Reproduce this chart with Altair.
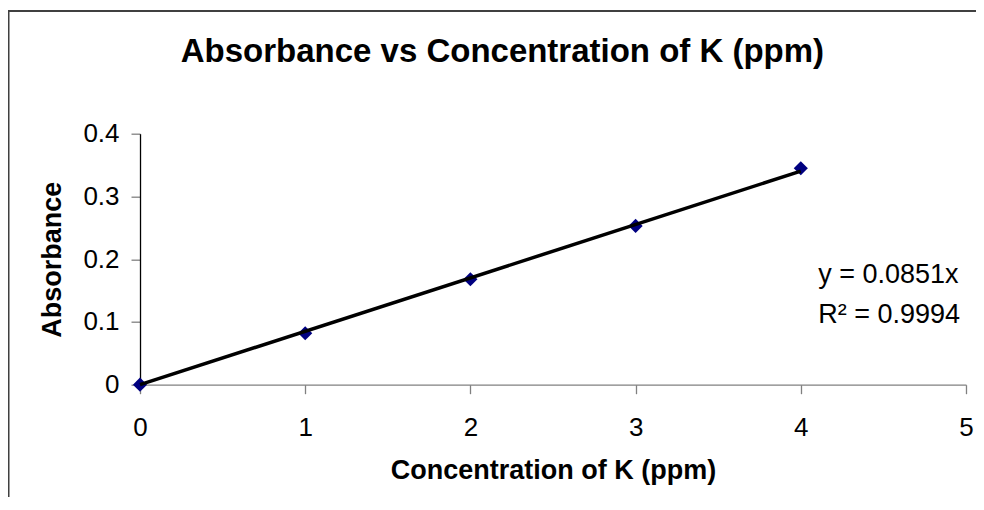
import altair as alt
import pandas as pd

# ---- data ----
conc = [0, 1, 2, 3, 4]
absorb = [0.0, 0.082, 0.168, 0.253, 0.345]
trend_x = [0, 4]
trend_y = [0.0, 0.3404]
eq_lines = ["y = 0.0851x", "R² = 0.9994"]
eq_x = [4.106, 4.106]
eq_y = [0.162, 0.098]
x_ticks = [0, 1, 2, 3, 4, 5]
y_ticks = [0, 0.1, 0.2, 0.3, 0.4]
title_text = "Absorbance vs Concentration of K (ppm)"

FONT = "Liberation Sans"
W, H = 826, 251
PAD = {"left": 132, "top": 125.7, "right": 10, "bottom": 112}

xs = alt.Scale(domain=[0, 5], nice=False)
ys = alt.Scale(domain=[0, 0.4], nice=False)

x_axis = alt.Axis(
    values=x_ticks, format="d", title="Concentration of K (ppm)", grid=False,
    labelFlush=False,
    domainColor="#808080", domainWidth=1.3, tickColor="#808080", tickWidth=1.3,
    tickSize=9, labelPadding=21, labelFontSize=26, labelFont=FONT, labelColor="black",
    titleFontSize=27, titleFont=FONT, titleFontWeight="bold", titleColor="black",
    titlePadding=17,
)
y_axis = alt.Axis(
    values=y_ticks, format="~g", title="Absorbance", grid=False,
    labelFlush=False,
    domainColor="black", domainWidth=1.3, tickColor="#808080", tickWidth=1.3,
    tickSize=9, labelPadding=12, labelFontSize=26, labelFont=FONT, labelColor="black",
    titleFontSize=27, titleFont=FONT, titleFontWeight="bold", titleColor="black",
    titlePadding=16,
)

pts_df = pd.DataFrame({"c": conc, "a": absorb})
trend_df = pd.DataFrame({"c": trend_x, "a": trend_y})
eq_df = pd.DataFrame({"t": eq_lines, "c": eq_x, "a": eq_y})
one = pd.DataFrame({"t": [title_text]})

points = alt.Chart(pts_df).mark_point(
    shape="diamond", filled=True, color="#000080", size=200, opacity=1
).encode(
    x=alt.X("c:Q", scale=xs, axis=x_axis),
    y=alt.Y("a:Q", scale=ys, axis=y_axis),
)

trend = alt.Chart(trend_df).mark_line(color="black", strokeWidth=3.5).encode(
    x=alt.X("c:Q", scale=xs), y=alt.Y("a:Q", scale=ys)
)

eq = alt.Chart(eq_df).mark_text(
    align="left", baseline="alphabetic", font=FONT, fontSize=27, color="black"
).encode(x=alt.X("c:Q", scale=xs), y=alt.Y("a:Q", scale=ys), text="t:N")

title = alt.Chart(one).mark_text(
    align="center", baseline="alphabetic", font=FONT, fontSize=33,
    fontWeight="bold", color="black"
).encode(x=alt.value(362.4), y=alt.value(-72), text="t:N")

# chart-area frame: only its left and top edges fall inside the picture
frame = alt.Chart(one).mark_rect(
    fillOpacity=0, stroke="#404040", strokeWidth=2
).encode(
    x=alt.value(-131.5), x2=alt.value(W + 300),
    y=alt.value(-122.7), y2=alt.value(H + 300),
)

chart = alt.layer(frame, title, points, trend, eq).properties(
    width=W, height=H, padding=PAD, autosize=alt.AutoSizeParams(type="none")
).configure_view(stroke=None)

chart.save("out.html", embed_options={"renderer": "svg", "actions": False})
